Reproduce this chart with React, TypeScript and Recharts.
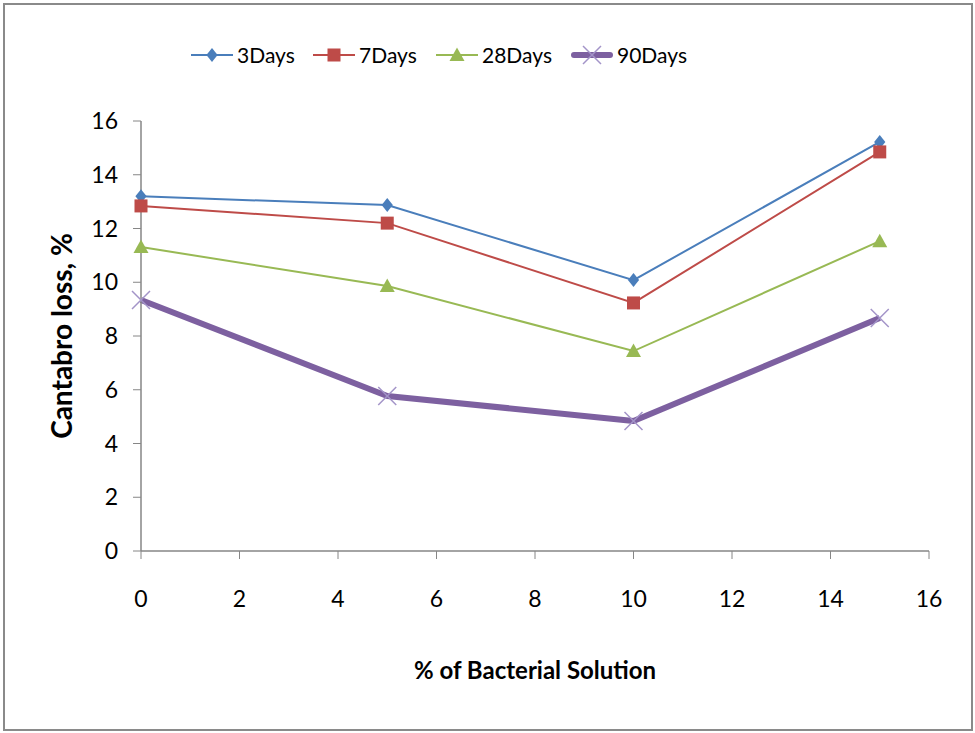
import { LineChart, Line, XAxis, YAxis, Legend, Label } from "recharts";

// ---- data ----
const bacterialPct = [0, 5, 10, 15];
const days3 = [13.2, 12.87, 10.08, 15.22];
const days7 = [12.84, 12.2, 9.23, 14.85];
const days28 = [11.31, 9.86, 7.44, 11.53];
const days90 = [9.34, 5.77, 4.84, 8.67];

const xTicks = [0, 2, 4, 6, 8, 10, 12, 14, 16];
const yTicks = [0, 2, 4, 6, 8, 10, 12, 14, 16];

const seriesNames = ["3Days", "7Days", "28Days", "90Days"];

const data = bacterialPct.map((x, i) => ({
  x,
  d3: days3[i],
  d7: days7[i],
  d28: days28[i],
  d90: days90[i],
}));

const FONT = "Lato, 'Open Sans', sans-serif";
const AXIS = "#868686";

const BLUE = "#4a7ebb";
const RED = "#be4b48";
const GREEN = "#98b954";
const PURPLE = "#7d60a0";
const PURPLE_X = "#a394c8";

// ---- markers ----
type Mk = "diamond" | "square" | "triangle" | "cross";

function marker(kind: Mk, cx: number, cy: number, color: string, key?: string) {
  if (kind === "diamond") {
    const r = 7;
    return (
      <path
        key={key}
        d={`M${cx},${cy - r} L${cx + r * 0.8},${cy} L${cx},${cy + r} L${cx - r * 0.8},${cy} Z`}
        fill={color}
      />
    );
  }
  if (kind === "square") {
    const r = 6.5;
    return <rect key={key} x={cx - r} y={cy - r} width={r * 2} height={r * 2} fill={color} />;
  }
  if (kind === "triangle") {
    const r = 7.5;
    return (
      <path
        key={key}
        d={`M${cx},${cy - r} L${cx + r},${cy + r * 0.8} L${cx - r},${cy + r * 0.8} Z`}
        fill={color}
      />
    );
  }
  const r = 9;
  return (
    <path
      key={key}
      d={`M${cx - r},${cy - r} L${cx + r},${cy + r} M${cx - r},${cy + r} L${cx + r},${cy - r}`}
      stroke={PURPLE_X}
      strokeWidth={1.5}
      fill="none"
    />
  );
}

const makeDot = (kind: Mk, color: string) => (props: any) =>
  marker(kind, props.cx, props.cy, color, `${kind}-${props.index}`);

const seriesInfo: Record<string, { kind: Mk; color: string; width: number; left: number }> = {
  "3Days": { kind: "diamond", color: BLUE, width: 2, left: 0 },
  "7Days": { kind: "square", color: RED, width: 2, left: 122 },
  "28Days": { kind: "triangle", color: GREEN, width: 2, left: 245 },
  "90Days": { kind: "cross", color: PURPLE, width: 6, left: 380 },
};

function LegendContent() {
  return (
    <div style={{ position: "relative", height: 26 }}>
      {seriesNames.map((name) => {
        const info = seriesInfo[name];
        return (
          <div
            key={name}
            style={{
              position: "absolute",
              left: info.left,
              top: 0,
              display: "flex",
              alignItems: "center",
              whiteSpace: "nowrap",
            }}
          >
            <svg width={44} height={26}>
              <line
                x1={info.width > 3 ? 4 : 1}
                x2={info.width > 3 ? 40 : 43}
                y1={13}
                y2={13}
                stroke={info.color}
                strokeWidth={info.width}
                strokeLinecap={info.width > 3 ? "round" : "butt"}
              />
              {marker(info.kind, 22, 13, info.color)}
            </svg>
            <span
              style={{
                fontFamily: FONT,
                fontSize: 21,
                color: "#000",
                marginLeft: 3,
                lineHeight: "26px",
              }}
            >
              {name}
            </span>
          </div>
        );
      })}
    </div>
  );
}

export default function App() {
  return (
    <div style={{ position: "fixed", left: 0, top: 0, width: 975, height: 733, background: "#fff" }}>
      <div
        style={{
          position: "absolute",
          left: 3,
          top: 3,
          width: 970,
          height: 728,
          border: "2px solid #8a8a8a",
          boxSizing: "border-box",
        }}
      />
      <LineChart
        width={975}
        height={733}
        data={data}
        margin={{ top: 121, right: 46, bottom: 52, left: 0 }}
      >
        <XAxis
          dataKey="x"
          type="number"
          domain={[0, 16]}
          ticks={xTicks}
          interval={0}
          height={130}
          axisLine={{ stroke: AXIS, strokeWidth: 1.5 }}
          tickLine={{ stroke: AXIS }}
          tickSize={8}
          tickMargin={32}
          tick={{ fill: "#000", fontSize: 23, fontFamily: FONT }}
          label={
            <Label
              content={() => (
                <text
                  x={535}
                  y={669}
                  textAnchor="middle"
                  dominantBaseline="central"
                  fontFamily={FONT}
                  fontSize={24}
                  fontWeight="bold"
                  fill="#000"
                >
                  % of Bacterial Solution
                </text>
              )}
            />
          }
        />
        <YAxis
          type="number"
          domain={[0, 16]}
          ticks={yTicks}
          interval={0}
          width={141}
          axisLine={{ stroke: AXIS, strokeWidth: 1.5 }}
          tickLine={{ stroke: AXIS }}
          tickSize={8}
          tickMargin={15}
          tick={{ fill: "#000", fontSize: 23, fontFamily: FONT }}
          label={
            <Label
              content={() => (
                <text
                  x={61}
                  y={336}
                  transform="rotate(-90 61 336)"
                  textAnchor="middle"
                  dominantBaseline="central"
                  fontFamily={FONT}
                  fontSize={28}
                  fontWeight="bold"
                  fill="#000"
                >
                  Cantabro loss, %
                </text>
              )}
            />
          }
        />
        <Legend
          verticalAlign="middle"
          align="center"
          layout="horizontal"
          content={<LegendContent />}
          wrapperStyle={{ top: 42, left: 190, width: 700 }}
        />
        <Line
          name="3Days"
          dataKey="d3"
          stroke={BLUE}
          strokeWidth={2}
          dot={makeDot("diamond", BLUE)}
          activeDot={false}
          isAnimationActive={false}
        />
        <Line
          name="7Days"
          dataKey="d7"
          stroke={RED}
          strokeWidth={2}
          dot={makeDot("square", RED)}
          activeDot={false}
          isAnimationActive={false}
        />
        <Line
          name="28Days"
          dataKey="d28"
          stroke={GREEN}
          strokeWidth={2}
          dot={makeDot("triangle", GREEN)}
          activeDot={false}
          isAnimationActive={false}
        />
        <Line
          name="90Days"
          dataKey="d90"
          stroke={PURPLE}
          strokeWidth={6}
          strokeLinejoin="round"
          dot={makeDot("cross", PURPLE)}
          activeDot={false}
          isAnimationActive={false}
        />
      </LineChart>
    </div>
  );
}
